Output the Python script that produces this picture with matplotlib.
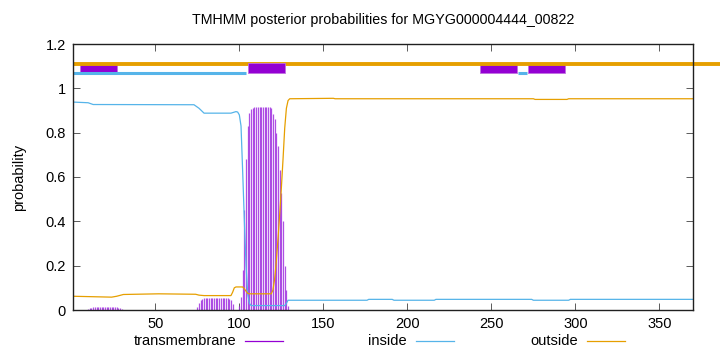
import matplotlib
matplotlib.use("Agg")
import matplotlib.pyplot as plt
from matplotlib.lines import Line2D
from matplotlib.patches import Rectangle

plt.rcParams['font.family'] = ['Liberation Sans', 'DejaVu Sans']

TITLE = "TMHMM posterior probabilities for MGYG000004444_00822"
SEQ_LEN = 370

# transmembrane posterior (impulses): residue positions and values
tm_x = [10, 11, 12, 13, 14, 15, 16, 17, 18, 19, 20, 21, 22, 23, 24, 25, 26, 27, 28, 29, 30,
        75, 76, 77, 78, 79, 80, 81, 82, 83, 84, 85, 86, 87, 88, 89, 90, 91, 92, 93, 94, 95, 96,
        100, 101, 102, 103, 104, 105, 106, 107, 108, 109, 110, 111, 112, 113, 114, 115, 116,
        117, 118, 119, 120, 121, 122, 123, 124, 125, 126, 127, 128, 129]
tm_y = [0.004, 0.008, 0.011, 0.013, 0.013, 0.013, 0.013, 0.013, 0.013, 0.013, 0.013, 0.013,
        0.013, 0.013, 0.013, 0.013, 0.013, 0.013, 0.011, 0.008, 0.004,
        0.012, 0.030, 0.043, 0.049, 0.052, 0.052, 0.052, 0.052, 0.052, 0.052, 0.052, 0.052,
        0.052, 0.052, 0.052, 0.052, 0.052, 0.052, 0.052, 0.050, 0.044, 0.025,
        0.02, 0.06, 0.18, 0.45, 0.68, 0.83, 0.89, 0.905, 0.912, 0.915, 0.915, 0.915, 0.915,
        0.915, 0.915, 0.915, 0.915, 0.915, 0.915, 0.91, 0.885, 0.86, 0.80, 0.74, 0.63, 0.53,
        0.40, 0.20, 0.09, 0.02]

# inside posterior (line)
in_x = [1, 10, 13, 73, 76, 79, 95, 98, 99, 100, 101, 102, 103, 104, 105, 106, 107, 127, 128,
        129, 176, 177, 191, 192, 216, 217, 274, 275, 296, 297, 370]
in_y = [0.938, 0.935, 0.927, 0.926, 0.91, 0.888, 0.888, 0.895, 0.893, 0.88, 0.83, 0.62, 0.40,
        0.20, 0.07, 0.03, 0.02, 0.02, 0.03, 0.044, 0.044, 0.048, 0.048, 0.044, 0.044, 0.048,
        0.048, 0.044, 0.044, 0.048, 0.048]

# outside posterior (line)
out_x = [1, 24, 27, 31, 52, 74, 76, 79, 95, 96, 97, 98, 102, 103, 104, 105, 106, 119, 120,
         121, 122, 123, 124, 125, 126, 127, 128, 129, 130, 156, 157, 275, 276, 295, 296, 370]
out_y = [0.062, 0.058, 0.062, 0.07, 0.073, 0.071, 0.067, 0.065, 0.065, 0.08, 0.10, 0.104,
         0.104, 0.095, 0.085, 0.075, 0.073, 0.073, 0.09, 0.14, 0.22, 0.32, 0.43, 0.55, 0.68,
         0.82, 0.91, 0.945, 0.953, 0.955, 0.953, 0.953, 0.95, 0.95, 0.953, 0.953]

# predicted topology (top annotation)
tm_segments = [(5, 27), (105, 127), (243, 265), (272, 294)]
inside_segments = [(1, 104), (266, 271)]
outside_segments = [(1, 392)]

C_TM = '#9400d3'
C_IN = '#56b4e9'
C_OUT = '#e69f00'

fig = plt.figure(figsize=(7.2, 3.52), dpi=100)
ax = fig.add_axes([73/720, (352-310)/352, 620/720, (310-44)/352])

ax.vlines(tm_x, 0, tm_y, color='#a030e0', lw=0.9, alpha=0.85, zorder=3)
ax.plot(in_x, in_y, color=C_IN, lw=0.9, zorder=4)
ax.plot(out_x, out_y, color=C_OUT, lw=0.9, zorder=4)

# topology bars
for i, (s, e) in enumerate(tm_segments):
    z = 7 if i == 1 else 5
    ax.add_patch(Rectangle((s, 1.068), e - s, 0.048, facecolor=C_TM, edgecolor='#c070e0',
                           lw=0.6, zorder=z, clip_on=False))
for s, e in inside_segments:
    ax.plot([s, e], [1.071, 1.071], color=C_IN, lw=2.2, solid_capstyle='butt', zorder=6,
            clip_on=False)
for s, e in outside_segments:
    ax.plot([s, e], [1.110, 1.110], color=C_OUT, lw=2.8, solid_capstyle='butt', zorder=6,
            clip_on=False)

ax.set_xlim(1, SEQ_LEN)
ax.set_ylim(0, 1.2)
ax.set_xticks([50, 100, 150, 200, 250, 300, 350])
ax.set_yticks([0, 0.2, 0.4, 0.6, 0.8, 1, 1.2])
ax.set_yticklabels(['0', '0.2', '0.4', '0.6', '0.8', '1', '1.2'])
ax.tick_params(direction='in', length=5, width=0.6, top=True, right=True,
               labelsize=10.5, pad=5, color='#404040')
for sp in ax.spines.values():
    sp.set_linewidth(1.0)
    sp.set_color('#202020')
    sp.set_zorder(8)

ax.set_ylabel('probability', fontsize=10.5, labelpad=14)
fig.text(383/720, 1 - 20/352, TITLE, ha='center', va='center', fontsize=10.3)

# legend (gnuplot style, bottom)
labels = ['transmembrane', 'inside', 'outside']
colors = [C_TM, C_IN, C_OUT]
text_end = [236, 407, 578]
ly = 1 - 341/352
for lab, col, te in zip(labels, colors, text_end):
    fig.text(te/720, ly, lab, ha='right', va='center', fontsize=10.5)
    fig.add_artist(Line2D([(te + 9)/720, (te + 47)/720], [ly, ly], color=col, lw=0.9,
                          transform=fig.transFigure))

fig.savefig('out.png', dpi=100)
